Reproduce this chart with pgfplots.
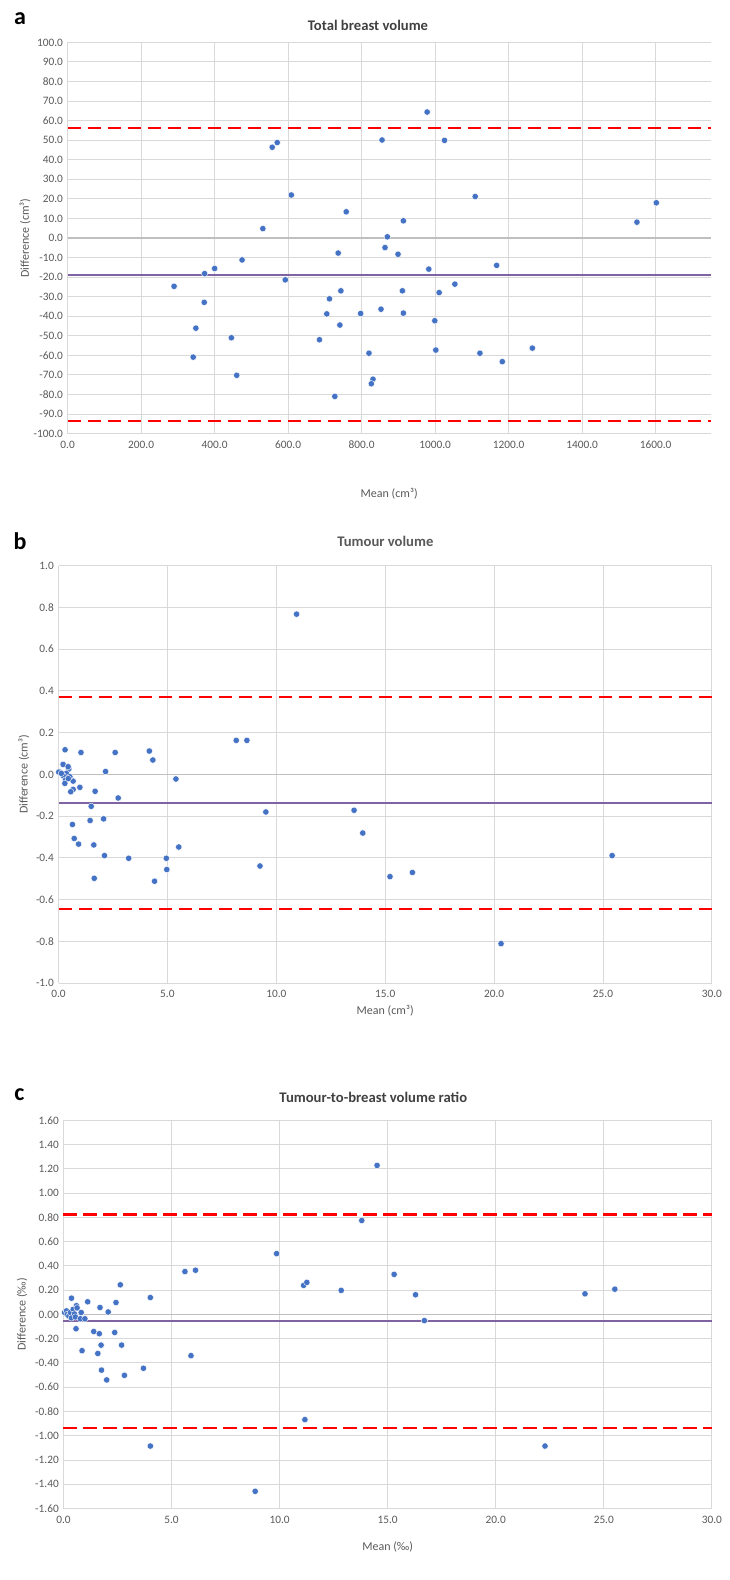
\documentclass[border=0pt]{standalone}
\usepackage{pgfplots}
\pgfplotsset{compat=1.18}
\usepackage{fontspec}
\setmainfont{Carlito}
\definecolor{gridgray}{HTML}{D9D9D9}
\definecolor{zerogray}{HTML}{BFBFBF}
\definecolor{labgray}{HTML}{595959}
\definecolor{ptblue}{HTML}{4472C4}
\definecolor{meanpurple}{HTML}{8064A2}
\definecolor{titlegray}{HTML}{404040}
\pgfplotsset{
  ba/.style={
    scale only axis, anchor=north west, clip=false,
    axis line style={draw=none},
    major tick length=0pt,
    grid=major,
    major grid style={color=gridgray, line width=0.7pt},
    tick label style={font=\fontsize{8.5}{10}\selectfont, text=labgray},
    xticklabel style={yshift=-2pt},
    /pgf/number format/assume math mode=true,
    /pgf/number format/fixed,
    /pgf/number format/fixed zerofill,
    /pgf/number format/precision=1,
    /pgf/number format/1000 sep={},
    label style={font=\fontsize{9}{10}\selectfont, text=labgray},
  },
  pts/.style={only marks, mark=*, mark size=2.4pt, mark options={fill=ptblue, draw=white, line width=0.3pt}},
  lim/.style={red, line width=1.8pt, dash pattern=on 10pt off 5pt},
  mn/.style={meanpurple, line width=1.5pt},
  zl/.style={zerogray, line width=0.8pt},
}
\begin{document}
\begin{tikzpicture}
\path (0pt,0pt) rectangle (547.5pt,-1185pt);
% ---------------- panel a
\node[font=\fontsize{18}{20}\selectfont\bfseries] at (15pt,-14pt) {a};
\node[font=\fontsize{11}{13}\selectfont\bfseries, text=titlegray] at (276pt,-19pt) {Total breast volume};
\begin{axis}[ba, at={(50.7pt,-31.8pt)}, width=482.4pt, height=293.4pt,
  xmin=0, xmax=1750, ymin=-100, ymax=100,
  xtick={0,200,400,600,800,1000,1200,1400,1600},
  ytick={-100,-90,-80,-70,-60,-50,-40,-30,-20,-10,0,10,20,30,40,50,60,70,80,90,100},
  xlabel={Mean (cm³)}, ylabel={Difference (cm³)},
  xlabel style={at={(axis description cs:0.5,0)}, anchor=center, yshift=-45pt},
  ylabel style={at={(axis description cs:-0.0663,0.5)}, anchor=center},
]
\addplot[zl] coordinates {(0,0) (1750,0)};
\addplot[lim] coordinates {(0,56.1) (1750,56.1)};
\addplot[lim] coordinates {(0,-93.7) (1750,-93.7)};
\addplot[mn] coordinates {(0,-18.8) (1750,-18.8)};
\addplot[pts] coordinates {
(289.7,-24.7) (372.7,-18.2) (400,-15.6) (371.8,-32.9) (349,-46.1) (341.7,-60.9)
(445.6,-51.0) (460.1,-70.2) (474.7,-11.2) (531.2,4.8) (556.7,46.4) (570.4,48.8)
(608.7,22.0) (592.3,-21.4) (685.2,-52.0) (705.2,-38.8) (712.5,-31.1) (736.2,-7.7)
(743.5,-27.0) (740.8,-44.5) (758.1,13.4) (727.1,-81.0) (797.3,-38.6) (978.2,64.4)
(855.5,50.1) (1025.5,49.9) (1109,21.2) (913.6,8.8) (870,0.6) (863.6,-4.9)
(899,-8.3) (982.7,-15.9) (1167.3,-14.0) (1053.6,-23.6) (910.9,-27.0) (1010.9,-27.9)
(852.7,-36.4) (913.6,-38.4) (999,-42.3) (820,-58.9) (1001.8,-57.3) (1121.8,-58.9)
(1182.7,-63.2) (1264.5,-56.3) (830.9,-72.2) (826.4,-74.5) (1549,8.1) (1601.8,18.0)
};
\end{axis}
% ---------------- panel b
\node[font=\fontsize{18}{20}\selectfont\bfseries] at (15pt,-406pt) {b};
\node[font=\fontsize{11}{13}\selectfont\bfseries, text=labgray] at (289pt,-406pt) {Tumour volume};
\begin{axis}[ba, at={(43.9pt,-424.3pt)}, width=490pt, height=313pt,
  xmin=0, xmax=30, ymin=-1, ymax=1,
  xtick={0,5,10,15,20,25,30},
  ytick={-1,-0.8,-0.6,-0.4,-0.2,0,0.2,0.4,0.6,0.8,1},
  xlabel={Mean (cm³)}, ylabel={Difference (cm³)},
  xlabel style={at={(axis description cs:0.5,0)}, anchor=center, yshift=-21pt},
  ylabel style={at={(axis description cs:-0.053,0.5)}, anchor=center},
]
\addplot[zl] coordinates {(0,0) (30,0)};
\addplot[lim] coordinates {(0,0.371) (30,0.371)};
\addplot[lim] coordinates {(0,-0.644) (30,-0.644)};
\addplot[mn] coordinates {(0,-0.137) (30,-0.137)};
\addplot[pts] coordinates {
(0.05,0.012) (0.21,0.048) (0.30,0.118) (0.01,0.011) (0.47,0.026) (0.36,0.005)
(0.21,-0.006) (0.32,-0.027) (0.67,-0.032) (0.98,-0.062) (0.67,-0.072) (0.56,-0.083)
(0.29,-0.043) (0.52,-0.011) (0.44,0.037) (0.13,0.005) (0.45,-0.020)
(10.93,0.768) (8.16,0.163) (8.65,0.163) (4.17,0.112) (4.33,0.069) (2.60,0.105)
(1.03,0.105) (2.16,0.014) (5.39,-0.022) (1.68,-0.081) (2.74,-0.113) (1.50,-0.153)
(0.64,-0.240) (0.72,-0.307) (0.92,-0.334) (1.45,-0.221) (2.07,-0.213) (1.62,-0.338)
(2.11,-0.389) (1.64,-0.498) (3.22,-0.402) (4.41,-0.512) (4.95,-0.402) (4.97,-0.456)
(5.52,-0.348) (9.52,-0.180) (9.25,-0.439) (13.57,-0.172) (13.97,-0.281) (15.22,-0.490)
(16.25,-0.470) (20.32,-0.811) (25.42,-0.389)
};
\end{axis}
% ---------------- panel c
\node[font=\fontsize{18}{20}\selectfont\bfseries] at (14.5pt,-821pt) {c};
\node[font=\fontsize{11}{13}\selectfont\bfseries, text=titlegray] at (280pt,-823pt) {Tumour-to-breast volume ratio};
\begin{axis}[ba, at={(47.6pt,-840.2pt)}, width=486.3pt, height=291.2pt,
  xmin=0, xmax=30, ymin=-1.6, ymax=1.6,
  xtick={0,5,10,15,20,25,30},
  ytick={-1.6,-1.4,-1.2,-1,-0.8,-0.6,-0.4,-0.2,0,0.2,0.4,0.6,0.8,1,1.2,1.4,1.6},
  yticklabel style={/pgf/number format/precision=2},
  xlabel={Mean (‰)}, ylabel={Difference (‰)},
  xlabel style={at={(axis description cs:0.5,0)}, anchor=center, yshift=-29pt},
  ylabel style={at={(axis description cs:-0.0637,0.5)}, anchor=center},
]
\addplot[zl] coordinates {(0,0) (30,0)};
\addplot[lim] coordinates {(0,0.825) (30,0.825)};
\addplot[lim] coordinates {(0,-0.935) (30,-0.935)};
\addplot[mn] coordinates {(0,-0.055) (30,-0.055)};
\addplot[pts] coordinates {
(14.51,1.228) (13.80,0.774) (9.86,0.501) (5.62,0.353) (6.11,0.364) (11.11,0.239)
(11.26,0.264) (12.85,0.198) (15.30,0.330) (16.29,0.162) (24.13,0.170) (25.51,0.208)
(2.63,0.244) (4.02,0.139) (2.43,0.098) (1.12,0.104) (0.37,0.134) (1.69,0.057) (2.07,0.020)
(0.05,0.016) (0.14,0.029) (0.17,0.0) (0.25,-0.014) (0.32,0.016) (0.37,-0.029)
(0.45,0.042) (0.51,0.004) (0.55,-0.021) (0.60,0.072) (0.63,0.054) (0.82,0.016)
(0.78,-0.036) (0.99,-0.036)
(0.58,-0.118) (1.40,-0.141) (1.66,-0.159) (2.37,-0.149) (1.74,-0.253) (2.69,-0.253)
(0.86,-0.299) (1.59,-0.322) (1.76,-0.459) (2.00,-0.540) (2.82,-0.502) (3.70,-0.444)
(5.90,-0.340) (4.02,-1.085) (8.87,-1.458) (11.17,-0.867) (22.28,-1.085) (16.70,-0.051)
};
\end{axis}
\end{tikzpicture}
\end{document}
